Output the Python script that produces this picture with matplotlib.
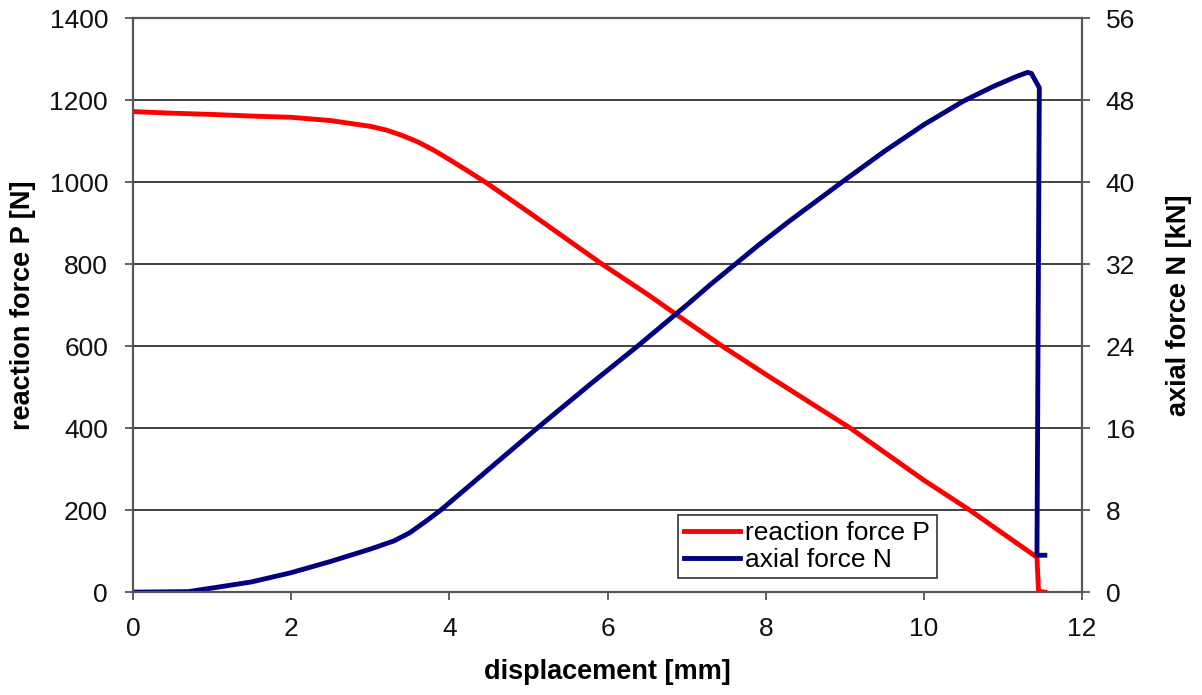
import numpy as np
import matplotlib
matplotlib.use("Agg")
import matplotlib.pyplot as plt

plt.rcParams['font.family'] = ['Liberation Sans', 'DejaVu Sans']

# reaction force P [N] vs displacement [mm]
disp_P = [0.0, 0.5, 1.0, 1.5, 2.0, 2.5, 3.0, 3.2, 3.4, 3.6, 3.8, 4.0, 4.2, 4.47,
          5.0, 5.93, 6.5, 6.84, 7.45, 8.0, 9.07, 10.0, 10.58, 11.0, 11.43,
          11.45, 11.53]
force_P = [1172, 1168, 1165, 1161, 1158, 1150, 1136, 1127, 1114, 1098, 1078, 1055, 1031, 998,
           927, 800, 727, 681, 600, 531, 400, 273, 200, 143, 85,
           2, 0]

# axial force N [kN] vs displacement [mm]
disp_N = [0.0, 0.7, 1.0, 1.5, 2.0, 2.5, 3.0, 3.3, 3.5, 3.7, 3.89, 4.5, 5.11,
          5.8, 6.38, 7.0, 7.3, 7.6, 7.9, 8.3, 9.0, 9.5, 10.0, 10.5, 10.87, 11.17,
          11.31, 11.36, 11.46, 11.43, 11.53]
force_N = [0.0, 0.05, 0.4, 1.0, 1.9, 3.0, 4.2, 5.0, 5.8, 6.9, 8.0, 12.0, 16.0,
           20.4, 24.0, 28.0, 30.0, 31.9, 33.8, 36.2, 40.2, 43.0, 45.6, 47.9, 49.3, 50.3,
           50.7, 50.6, 49.2, 3.6, 3.6]

fig = plt.figure(figsize=(12.02, 6.95), dpi=100)
ax = fig.add_axes([0.1107, 0.148, 0.7895, 0.826])
ax2 = ax.twinx()

lP, = ax.plot(disp_P, force_P, color='#ff0000', lw=3.5, solid_joinstyle='round',
              label='reaction force P')
lN, = ax2.plot(disp_N, force_N, color='#000080', lw=3.5, solid_joinstyle='round',
               label='axial force N')

ax.set_xlim(0, 12)
ax.set_ylim(0, 1400)
ax2.set_ylim(0, 56)
ax.set_xticks(np.arange(0, 13, 2))
ax.set_yticks(np.arange(0, 1401, 200))
ax2.set_yticks(np.arange(0, 57, 8))

ax.yaxis.grid(True, color='#333333', lw=1.3)
for a in (ax, ax2):
    for s in a.spines.values():
        s.set_color('#555555')
        s.set_linewidth(1.5)
    a.tick_params(direction='out', length=6, width=1.3, color='#555555',
                  labelsize=19, labelcolor='#111111')
ax.tick_params(axis='x', pad=12)
ax.tick_params(axis='y', pad=12)
ax2.tick_params(axis='y', pad=11)

label_font = dict(fontsize=19.5, fontweight='bold',
                  family=['Liberation Sans', 'DejaVu Sans'])
ax.set_xlabel('displacement [mm]', labelpad=13, **label_font)
ax.set_ylabel('reaction force P [N]', labelpad=10, **label_font)
ax2.set_ylabel('axial force N [kN]', labelpad=22, **label_font)

leg = ax2.legend(handles=[lP, lN], loc='lower left',
                 bbox_to_anchor=(0.574, 0.024),
                 fontsize=19, frameon=True, fancybox=False, framealpha=1,
                 handlelength=2.1, handletextpad=0.2, borderpad=0.25,
                 labelspacing=0.1, borderaxespad=0)
leg.get_frame().set_edgecolor('#333333')
leg.get_frame().set_linewidth(1.2)

fig.savefig('out.png', dpi=100)
